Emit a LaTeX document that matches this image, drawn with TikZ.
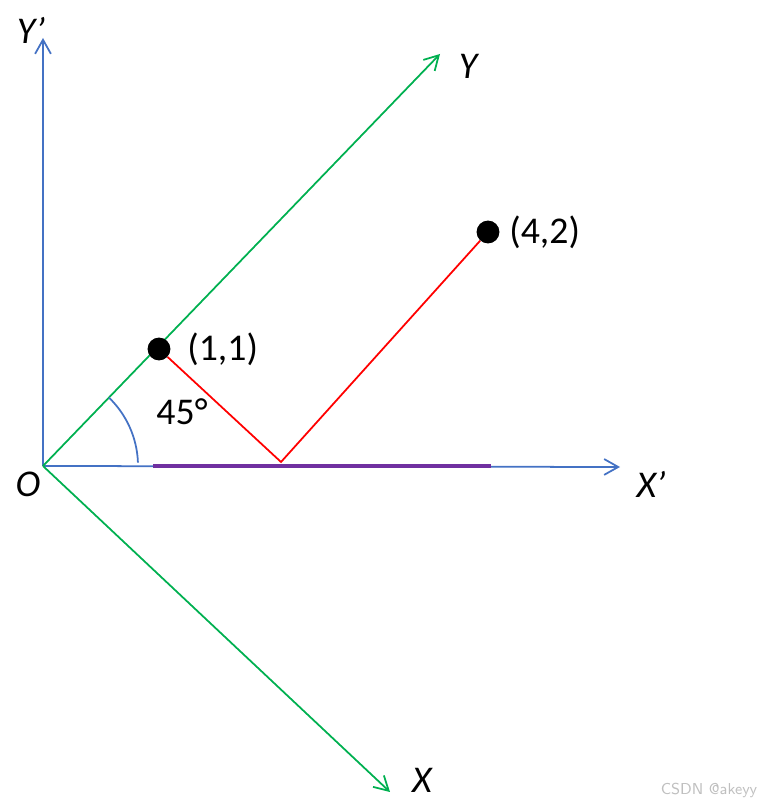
\documentclass[tikz,border=0pt]{standalone}
\usepackage{fontspec}
\setmainfont{Carlito}
\usetikzlibrary{arrows.meta}
\definecolor{axisblue}{HTML}{4472C4}
\definecolor{axisgreen}{HTML}{00B050}
\definecolor{projred}{HTML}{FF0000}
\definecolor{segpurple}{HTML}{7030A0}
\tikzset{
  axis/.style={-{Straight Barb[length=8pt,width=9pt]}, line width=1pt},
  axlab/.style={font=\itshape\fontsize{21.5}{25}\selectfont},
  ptlab/.style={font=\fontsize{21.5}{25}\selectfont, anchor=west, inner sep=0pt},
  dot/.style={circle, fill=black, inner sep=0pt, minimum size=13pt},
}
\begin{document}
\begin{tikzpicture}[x=0.02cm,y=0.02cm]
\useasboundingbox (0,0) rectangle (761,810);
% origine et bouts des axes
\coordinate (O) at (43,344);
\coordinate (Yptip) at (43,772);
\coordinate (Xptip) at (620,343);
\coordinate (Ytip) at (440,756);
\coordinate (Xtip) at (390,18);

\draw[axis,axisblue] (O) -- (Yptip);
\draw[axis,axisblue] (O) -- (Xptip);
\draw[axis,axisgreen] (O) -- (Ytip);
\draw[axis,axisgreen] (O) -- (Xtip);

\node[axlab] (labYp) at (31,780) {Y’};
\node[axlab] (labY) at (468,744) {Y};
\node[axlab] (labXp) at (651,326) {X’};
\node[axlab] (labX) at (422,30) {X};
\node[axlab] (labO) at (28,326) {O};

% angle
\draw[axisblue,line width=1pt] (O) ++(46:95) arc[start angle=46,end angle=2,radius=95];
\node[font=\fontsize{21.5}{25}\selectfont] (ang) at (182,398) {45°};

% points et projections
\node[dot] (P11) at (159,461) {};
\node[dot] (P42) at (488,578) {};
\node[ptlab] (lab11) at (187,461) {(1,1)};
\node[ptlab] (lab42) at (509,578) {(4,2)};
\coordinate (F) at (281,348);
\draw[projred,line width=1pt] (P11) -- (F) -- (P42);

\coordinate (S1) at (153,344);
\coordinate (S2) at (491,344);
\draw[segpurple,line width=2.6pt] (S1) -- (S2);

\node[text=gray!50,font=\sffamily\fontsize{9}{10}\selectfont] (wm) at (709,20) {CSDN @akeyy};
\end{tikzpicture}
\end{document}
